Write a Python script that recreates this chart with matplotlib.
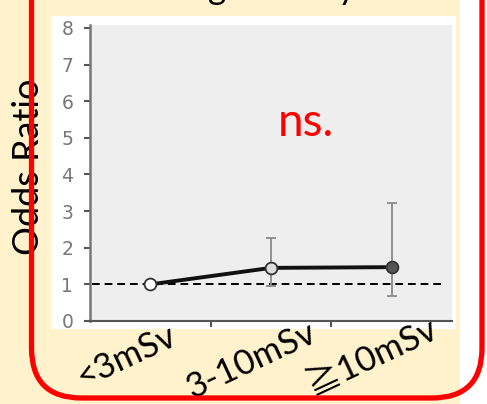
import matplotlib
matplotlib.use("Agg")
import matplotlib.pyplot as plt
from matplotlib.patches import FancyBboxPatch, Rectangle

# ---- data ----
categories = ['<3mSv', '3-10mSv', '≧10mSv']
odds_ratio = [1.0, 1.45, 1.47]
ci_lower = [1.0, 0.95, 0.68]
ci_upper = [1.0, 2.27, 3.22]
y_ticks = [0, 1, 2, 3, 4, 5, 6, 7, 8]
annotation = 'ns.'
y_label = 'Odds Ratio'

# ---- layout helpers ----
W, H = 487, 404
def fx(px): return px / W
def fy(py): return 1 - py / H

fig = plt.figure(figsize=(W / 100, H / 100), dpi=100)
fig.patch.set_facecolor('#FFF2CC')

# white strip at the right
fig.patches.append(Rectangle((fx(460), 0), 1 - fx(460), 1, transform=fig.transFigure,
                             facecolor='white', edgecolor='none', zorder=-5))
# white chart image background
fig.patches.append(Rectangle((fx(51), fy(329)), fx(456) - fx(51), fy(16) - fy(329),
                             transform=fig.transFigure, facecolor='white',
                             edgecolor='none', zorder=-5))

ax = fig.add_axes([fx(90), fy(321), fx(452) - fx(90), fy(25) - fy(321)])
ax.set_zorder(1)
ax.set_facecolor('#EEEEEE')
ax.set_xlim(-0.5, 2.5)
ax.set_ylim(0, 8.08)

x = list(range(len(categories)))

# reference line
ax.axhline(1.0, xmin=0.005, xmax=0.97, color='black', lw=1.4, ls=(0, (4, 2.5)), zorder=2)

# error bars (skip reference category)
for i in x[1:]:
    ax.errorbar(x[i], odds_ratio[i],
                yerr=[[odds_ratio[i] - ci_lower[i]], [ci_upper[i] - odds_ratio[i]]],
                fmt='none', ecolor='#8A8A8A', elinewidth=1.3, capsize=3.6, capthick=1.3, zorder=3)

# main line
ax.plot(x, odds_ratio, color='#111111', lw=2.8, zorder=4)

# markers
faces = ['white', '#DDDDDD', '#555555']
for i in x:
    ax.plot(x[i], odds_ratio[i], 'o', ms=8.5, mfc=faces[i], mec='#333333', mew=1.3, zorder=5)

# axes styling
for s in ['top', 'right']:
    ax.spines[s].set_visible(False)
ax.spines['left'].set_color('#777777')
ax.spines['left'].set_linewidth(1.8)
ax.spines['bottom'].set_color('#555555')
ax.spines['bottom'].set_linewidth(1.5)
ax.set_yticks(y_ticks)
ax.set_yticklabels([str(v) for v in y_ticks], fontsize=13.5, color='#777777',
                   family='DejaVu Sans')
ax.tick_params(axis='y', length=4, width=1.5, color='#555555', pad=8)
ax.set_xticks([0.5, 1.5])
ax.set_xticklabels([])
ax.tick_params(axis='x', length=4, width=1.5, color='#555555')

# category labels (rotated, slide text)
label_anchor_px = [(178, 343), (319, 340), (440, 335)]
for lab, (px, py) in zip(categories, label_anchor_px):
    fig.text(fx(px), fy(py), lab, ha='right', va='baseline', rotation=25,
             rotation_mode='anchor', fontsize=25, color='black', zorder=6,
             family=['Lato', 'Noto Sans CJK JP', 'DejaVu Sans'])

# ns. annotation (inside the plot)
fig.text(fx(278), fy(136), annotation, ha='left', va='baseline', fontsize=33,
         color='#FF0000', family='Lato', zorder=6)

# y label
fig.text(fx(39), fy(255), y_label, ha='left', va='baseline', rotation=90,
         rotation_mode='anchor', fontsize=26, color='black', family='Lato', zorder=6)

# cut-off title descenders at the top
fig.text(fx(208), fy(-1), 'g', ha='left', va='baseline', fontsize=25, family='Lato', zorder=6)
fig.text(fx(338), fy(-1), 'y', ha='left', va='baseline', fontsize=25, family='Lato', zorder=6)

# red rounded border (in inches: 100 px per inch)
border = FancyBboxPatch((31.5 / 100, (H - 398) / 100), (482 - 31.5) / 100, 4.6,
                        boxstyle='round,pad=0,rounding_size=0.5',
                        transform=fig.dpi_scale_trans, facecolor='none',
                        edgecolor='#FF0000', lw=3.8, zorder=10)
fig.patches.append(border)

fig.savefig('out.png', dpi=100, facecolor=fig.get_facecolor())
